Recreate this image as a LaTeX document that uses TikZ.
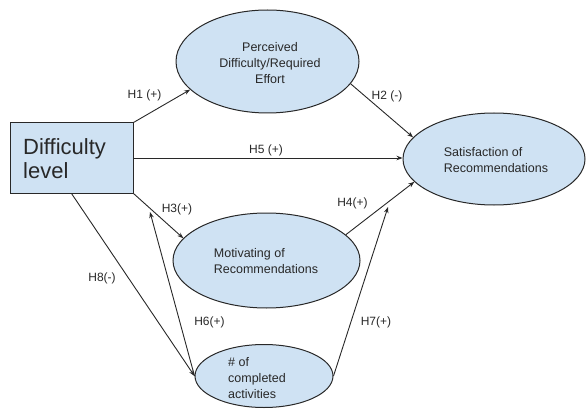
\documentclass[tikz,border=0pt]{standalone}
\usepackage{fontspec}
\setmainfont{Liberation Sans}
\usetikzlibrary{arrows.meta,shapes.geometric}
\definecolor{boxfill}{RGB}{207,226,243}
\definecolor{ink}{RGB}{40,40,40}
\tikzset{
  ell/.style={ellipse,draw=ink,line width=1pt,fill=boxfill,inner sep=0pt},
  txt/.style={font=\fontsize{12.5}{16}\selectfont,text=ink,align=left,inner sep=0pt},
  lab/.style={font=\fontsize{12}{14}\selectfont,text=ink,inner sep=0pt},
  conn/.style={draw=ink,line width=0.9pt,-{Stealth[length=6pt,width=4.5pt]}}
}
\begin{document}
\begin{tikzpicture}[x=1pt,y=-1pt]
\useasboundingbox (0,0) rectangle (586,409);
% box
\node[draw=ink,line width=1pt,fill=boxfill,minimum width=123pt,minimum height=70pt,inner sep=0pt] (box) at (71.5,158) {};
\node[font=\fontsize{22}{24}\selectfont,text=ink,align=left,anchor=west,inner sep=0pt] (boxT) at (23,159) {Difficulty\\level};
% ellipses
\node[ell,minimum width=183pt,minimum height=103pt] (perc) at (267.5,61.5) {};
\node[ell,minimum width=182pt,minimum height=92pt] (sat) at (494,159) {};
\node[ell,minimum width=187pt,minimum height=95pt] (mot) at (266.5,260.5) {};
\node[ell,minimum width=138pt,minimum height=63pt] (comp) at (264,376) {};
% texts
\node[txt,align=center] (percT) at (270,63) {Perceived\\Difficulty/Required\\Effort};
\node[txt] (satT) at (496,160) {Satisfaction of\\Recommendations};
\node[txt] (motT) at (266,261.5) {Motivating of\\Recommendations};
\node[txt] (compT) at (257,378) {\# of\\completed\\activities};
% free ends
\coordinate (h6tip) at (150,212);
\coordinate (h7tip) at (388,207);
% connectors
\draw[conn] (box.north east) -- (perc.200);
\draw[conn] (perc.-15) -- (sat.165);
\draw[conn] (box.east) -- (box.east -| sat.west);
\draw[conn] (box.south east) -- (mot.165);
\draw[conn] (mot.18) -- (sat.196);
\draw[conn] (box.south) -- (comp.west);
\draw[conn] (comp.west) -- (h6tip);
\draw[conn] (comp.east) -- (h7tip);
% labels
\node[lab] (l1) at (144.5,95) {H1 (+)};
\node[lab] (l2) at (387,96) {H2 (-)};
\node[lab] (l5) at (266,150) {H5 (+)};
\node[lab] (l3) at (177,209) {H3(+)};
\node[lab] (l4) at (352.5,203) {H4(+)};
\node[lab] (l8) at (102,278) {H8(-)};
\node[lab] (l6) at (209.5,322) {H6(+)};
\node[lab] (l7) at (376,322) {H7(+)};
\end{tikzpicture}
\end{document}
